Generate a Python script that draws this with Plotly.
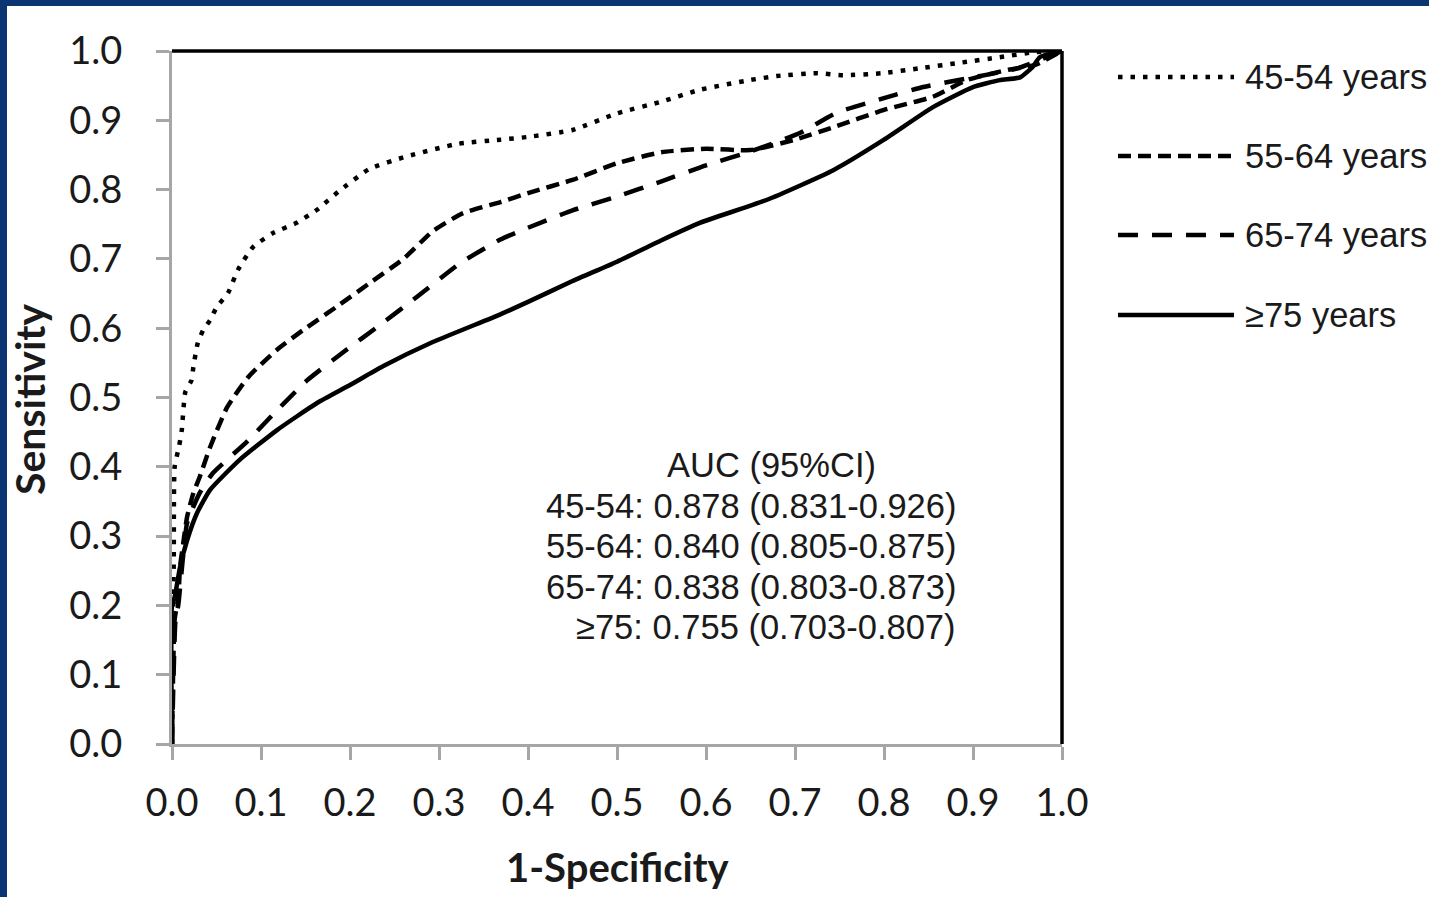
import plotly.graph_objects as go

# ---------------- data ----------------
series_names = ["45-54 years", "55-64 years", "65-74 years", "≥75 years"]

x_45_54 = [0, 0.002, 0.003, 0.008, 0.011, 0.015, 0.022, 0.024, 0.029, 0.035, 0.043, 0.050, 0.063,
           0.074, 0.091, 0.113, 0.140, 0.163, 0.187, 0.222, 0.264, 0.321, 0.369, 0.40, 0.45, 0.50,
           0.55, 0.593, 0.649, 0.68, 0.725, 0.754, 0.798, 0.84, 0.885, 0.93, 0.967, 1.0]
y_45_54 = [0, 0.27, 0.40, 0.43, 0.453, 0.508, 0.525, 0.544, 0.579, 0.597, 0.612, 0.630, 0.651,
           0.684, 0.717, 0.737, 0.752, 0.771, 0.797, 0.830, 0.848, 0.866, 0.872, 0.876, 0.886, 0.910,
           0.927, 0.944, 0.958, 0.964, 0.968, 0.965, 0.968, 0.975, 0.983, 0.991, 0.998, 1.0]

x_55_64 = [0, 0.003, 0.007, 0.009, 0.012, 0.017, 0.024, 0.031, 0.043, 0.062, 0.086, 0.118, 0.147,
           0.185, 0.222, 0.26, 0.293, 0.327, 0.369, 0.40, 0.45, 0.50, 0.55, 0.60, 0.65, 0.70,
           0.743, 0.80, 0.855, 0.893, 0.94, 0.97, 1.0]
y_55_64 = [0, 0.18, 0.21, 0.255, 0.284, 0.328, 0.362, 0.385, 0.429, 0.486, 0.530, 0.569, 0.597,
           0.631, 0.665, 0.700, 0.740, 0.766, 0.782, 0.795, 0.814, 0.838, 0.854, 0.859, 0.857, 0.872,
           0.890, 0.915, 0.934, 0.958, 0.973, 0.980, 1.0]

x_65_74 = [0, 0.004, 0.007, 0.012, 0.017, 0.031, 0.046, 0.084, 0.113, 0.140, 0.152, 0.192, 0.234,
           0.275, 0.324, 0.369, 0.40, 0.45, 0.50, 0.55, 0.60, 0.65, 0.706, 0.747, 0.80, 0.844,
           0.90, 0.95, 1.0]
y_65_74 = [0, 0.18, 0.20, 0.265, 0.319, 0.362, 0.391, 0.436, 0.475, 0.510, 0.525, 0.565, 0.605,
           0.645, 0.694, 0.728, 0.745, 0.770, 0.790, 0.812, 0.835, 0.855, 0.882, 0.911, 0.932, 0.948,
           0.962, 0.975, 1.0]

x_75 = [0, 0, 0.003, 0.009, 0.017, 0.028, 0.043, 0.076, 0.118, 0.163, 0.20, 0.237, 0.293, 0.369,
        0.40, 0.45, 0.50, 0.55, 0.593, 0.668, 0.743, 0.80, 0.855, 0.90, 0.93, 0.953, 0.967, 0.975, 1.0]
y_75 = [0, 0.20, 0.212, 0.255, 0.294, 0.333, 0.367, 0.410, 0.453, 0.492, 0.518, 0.545, 0.580, 0.620,
        0.638, 0.668, 0.696, 0.727, 0.752, 0.785, 0.828, 0.872, 0.919, 0.948, 0.958, 0.962, 0.977, 0.991, 1.0]

auc_header = "AUC (95%CI)"
auc_lines = ["45-54: 0.878 (0.831-0.926)",
             "55-64: 0.840 (0.805-0.875)",
             "65-74: 0.838 (0.803-0.873)",
             "≥75: 0.755 (0.703-0.807)"]

tick_vals = [i / 10 for i in range(11)]
tick_text = [f"{v:.1f}" for v in tick_vals]

# ---------------- layout constants ----------------
W, H = 1429, 897
L, R, T, B = 172, 367, 51, 153
PW, PH = W - L - R, H - T - B


def px_x(px):
    return (px - L) / PW


def px_y(py):
    return (H - B - py) / PH


NAVY = "#0b3472"
GRAY = "#a6a6a6"
TXT = "#1a1a1a"
LW = 4.5
dashes = ["4.5px,8px", "13px,7px", "20px,14px", "solid"]
xs = [x_45_54, x_55_64, x_65_74, x_75]
ys = [y_45_54, y_55_64, y_65_74, y_75]

fig = go.Figure()
for name, xv, yv, d in zip(series_names, xs, ys, dashes):
    fig.add_trace(go.Scatter(x=xv, y=yv, mode="lines", name=name, showlegend=False,
                             line=dict(color="black", width=LW, dash=d, shape="spline", smoothing=0.5)))

shapes = []
# navy frame strips (top and left)
shapes.append(dict(type="rect", xref="paper", yref="paper", x0=px_x(0), x1=px_x(7), y0=px_y(H), y1=px_y(0),
                   fillcolor=NAVY, line=dict(width=0), layer="above"))
shapes.append(dict(type="rect", xref="paper", yref="paper", x0=px_x(0), x1=px_x(W), y0=px_y(6), y1=px_y(0),
                   fillcolor=NAVY, line=dict(width=0), layer="above"))
# black top & right plot border
shapes.append(dict(type="line", xref="paper", yref="paper", x0=0, x1=1, y0=1, y1=1,
                   line=dict(color="black", width=3.5)))
shapes.append(dict(type="line", xref="paper", yref="paper", x0=1, x1=1, y0=0, y1=1,
                   line=dict(color="black", width=3.5)))

annotations = []
# custom legend
leg_y = [77, 156, 235, 315]
for name, d, ly in zip(series_names, dashes, leg_y):
    shapes.append(dict(type="line", xref="paper", yref="paper", x0=px_x(1118), x1=px_x(1234),
                       y0=px_y(ly), y1=px_y(ly), line=dict(color="black", width=LW, dash=d)))
    annotations.append(dict(xref="paper", yref="paper", x=px_x(1243), y=px_y(ly), text=name,
                            showarrow=False, xanchor="left", yanchor="middle",
                            font=dict(family="Liberation Sans", size=34.5, color=TXT)))

# AUC text block
annotations.append(dict(xref="paper", yref="paper", x=px_x(771), y=px_y(465), text=auc_header,
                        showarrow=False, xanchor="center", yanchor="middle",
                        font=dict(family="Liberation Sans", size=34.5, color=TXT)))
for txt, ly in zip(auc_lines, [506, 546, 587, 627]):
    annotations.append(dict(xref="paper", yref="paper", x=px_x(958), y=px_y(ly), text=txt,
                            showarrow=False, xanchor="right", yanchor="middle",
                            font=dict(family="Liberation Sans", size=34.5, color=TXT)))

# axis titles
annotations.append(dict(xref="paper", yref="paper", x=px_x(618), y=px_y(867), text="<b>1-Specificity</b>",
                        showarrow=False, xanchor="center", yanchor="middle",
                        font=dict(family="Lato", size=40, color=TXT)))
annotations.append(dict(xref="paper", yref="paper", x=px_x(29), y=px_y(399), text="<b>Sensitivity</b>",
                        showarrow=False, xanchor="center", yanchor="middle", textangle=-90,
                        font=dict(family="Lato", size=41, color=TXT)))

axis_common = dict(range=[0, 1], tickmode="array", tickvals=tick_vals, ticktext=tick_text,
                   showgrid=False, zeroline=False, showline=True, linecolor=GRAY, linewidth=3,
                   ticks="outside", ticklen=13, tickwidth=3, tickcolor=GRAY,
                   tickfont=dict(family="Lato", size=38, color=TXT), layer="below traces")

fig.update_layout(
    width=W, height=H,
    margin=dict(l=L, r=R, t=T, b=B, pad=0),
    paper_bgcolor="white", plot_bgcolor="white",
    xaxis=dict(**axis_common, ticklabelstandoff=10),
    yaxis=dict(**axis_common, ticklabelstandoff=26),
    shapes=shapes, annotations=annotations,
    showlegend=False,
)

fig.write_html("out.html", config={"displayModeBar": False},
               post_script="document.body.style.margin='0';document.body.style.overflow='hidden';")
